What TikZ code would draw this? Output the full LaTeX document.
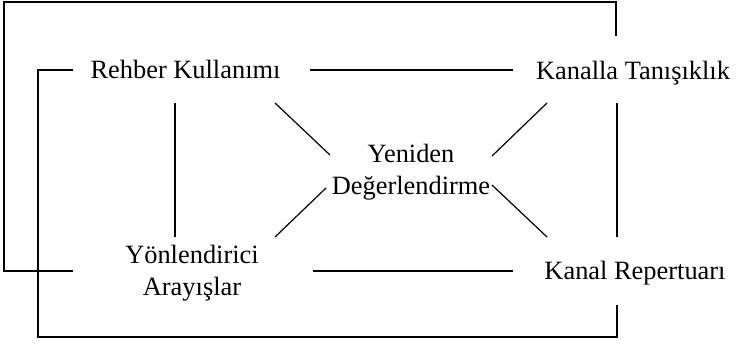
\documentclass[tikz,border=0pt]{standalone}
\usepackage{fontspec}
\setmainfont{Liberation Serif}
\usetikzlibrary{positioning}
\tikzset{
  kutu/.style={inner sep=0pt, font=\fontsize{13.2}{16}\selectfont},
  ikisatir/.style={kutu, align=center}
}
\begin{document}
\begin{tikzpicture}[x=0.5pt, y=-0.5pt, line width=0.6pt]
	\useasboundingbox (0,0) rectangle (738,343);
	% Kavramlar
		\node[kutu, anchor=base] (rehber) at (185.5,78) {Rehber Kullanımı};
		\node[kutu, anchor=base] (kanalla) at (633,79) {Kanalla Tanışıklık};
		\node[ikisatir] (yeniden) at (411,172) {Yeniden\\Değerlendirme};
		\node[ikisatir] (yonlendirici) at (192,273) {Yönlendirici\\Arayışlar};
		\node[kutu, anchor=base] (repertuar) at (635,279) {Kanal Repertuarı};
		\coordinate (ustsol) at (4,2);
		\coordinate (altsol) at (38,337);

	% Dik ve yatay baglantilar
		\draw ([shift={(124.5,-8)}]rehber.base) -- ([shift={(-120,-9)}]kanalla.base);
		\draw ([shift={(121,-2)}]yonlendirici.center) -- ([shift={(-122,-8)}]repertuar.base);
		\draw ([shift={(-10.5,25)}]rehber.base) -- ([shift={(-17,-36)}]yonlendirici.center);
		\draw ([shift={(-16,24)}]kanalla.base) -- ([shift={(-18,-42)}]repertuar.base);

	% Capraz baglantilar
		\draw ([shift={(89.5,25)}]rehber.base) -- ([shift={(-81,-17)}]yeniden.center);
		\draw ([shift={(-86,24)}]kanalla.base) -- ([shift={(81,-16)}]yeniden.center);
		\draw ([shift={(83,-36)}]yonlendirici.center) -- ([shift={(-85,16)}]yeniden.center);
		\draw ([shift={(81,13)}]yeniden.center) -- ([shift={(-88,-42)}]repertuar.base);

	% Dis donguler
		\draw ([shift={(-119,-2)}]yonlendirici.center) -| (ustsol) -| ([shift={(-17,-43)}]kanalla.base);
		\draw ([shift={(-112.5,-8)}]rehber.base) -| (altsol) -| ([shift={(-18,26)}]repertuar.base);
\end{tikzpicture}
\end{document}
